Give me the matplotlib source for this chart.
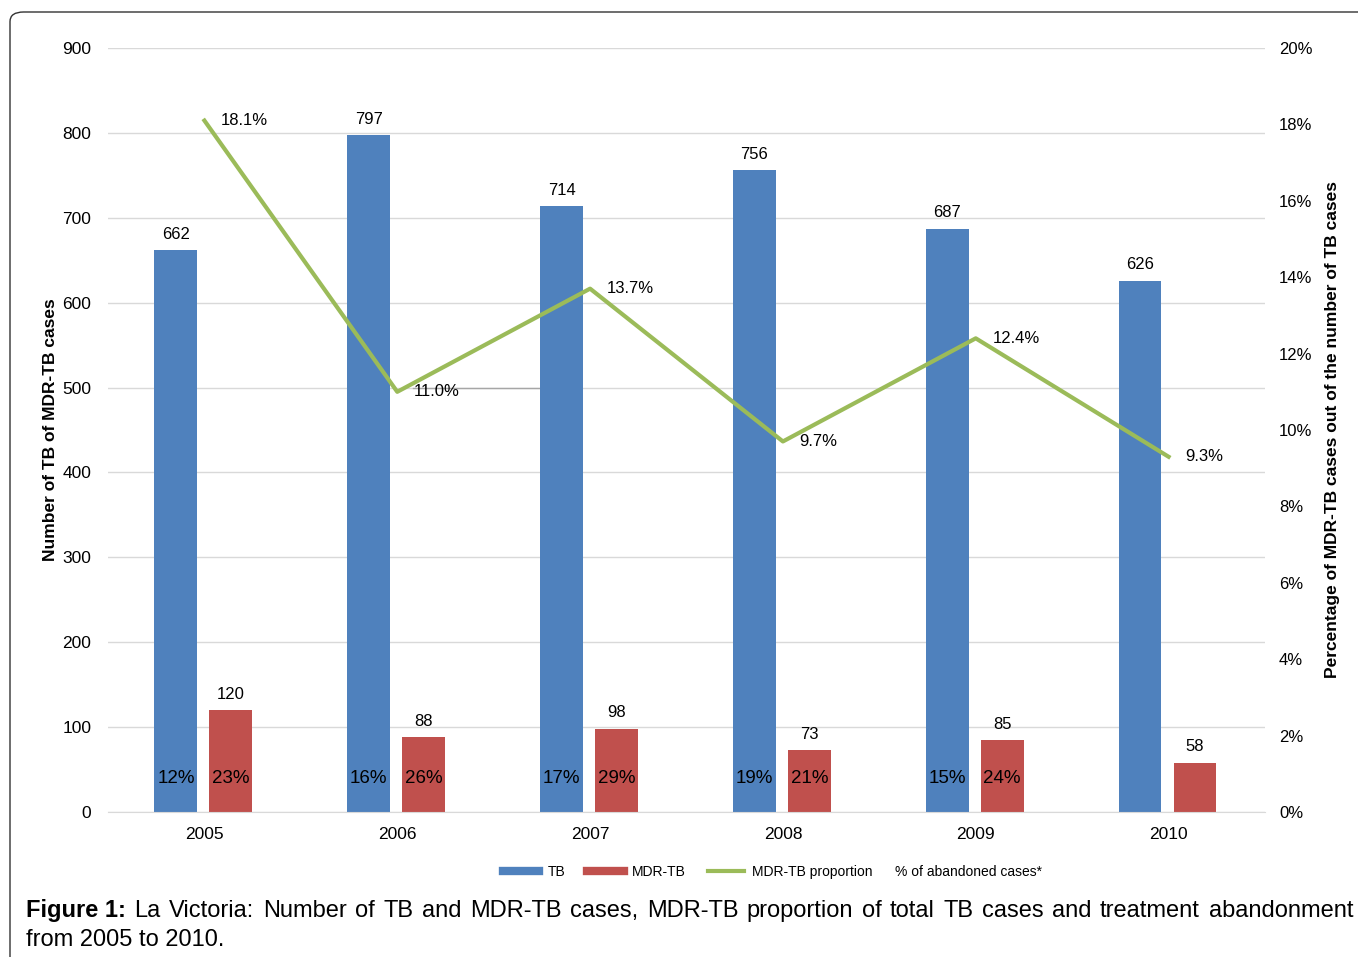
import matplotlib
matplotlib.use('Agg')
import matplotlib.pyplot as plt
from matplotlib.lines import Line2D
from matplotlib.patches import FancyBboxPatch
from matplotlib.ticker import FuncFormatter
import numpy as np

years = ['2005', '2006', '2007', '2008', '2009', '2010']
tb_cases = [662, 797, 714, 756, 687, 626]
mdr_cases = [120, 88, 98, 73, 85, 58]
mdr_proportion = [18.1, 11.0, 13.7, 9.7, 12.4, 9.3]
abandoned_tb = ['12%', '16%', '17%', '19%', '15%', '']
abandoned_mdr = ['23%', '26%', '29%', '21%', '24%', '']

blue = '#4F81BD'
red = '#C0504D'
green = '#9BBB59'
grid_col = '#D9D9D9'

plt.rcParams['font.family'] = ['Liberation Sans', 'DejaVu Sans']

W, H = 1358, 957
fig = plt.figure(figsize=(W / 100, H / 100), dpi=100)

# rounded frame around the figure
frame = FancyBboxPatch((10 / W, -0.2), 1.2, 1 - 12 / H + 0.2,
                       boxstyle='round,pad=0,rounding_size=0.01',
                       transform=fig.transFigure, fc='none', ec='#333333', lw=1.0)
fig.patches.append(frame)

ax = fig.add_axes([108 / W, 1 - 812 / H, (1265 - 108) / W, (812 - 48) / H])
x = np.arange(len(years))
bw = 0.222
tb_x = x - 0.148
mdr_x = x + 0.137

ax.bar(tb_x, tb_cases, bw, color=blue, zorder=2)
ax.bar(mdr_x, mdr_cases, bw, color=red, zorder=2)

for xi, v in zip(tb_x, tb_cases):
    ax.annotate(str(v), (xi, v), xytext=(0, 6), textcoords='offset points',
                ha='center', va='bottom', fontsize=12)
for xi, v in zip(mdr_x, mdr_cases):
    ax.annotate(str(v), (xi, v), xytext=(0, 6), textcoords='offset points',
                ha='center', va='bottom', fontsize=12)

# abandonment percentages written inside the bars
for xi, s in zip(tb_x, abandoned_tb):
    ax.text(xi, 40, s, ha='center', va='center', fontsize=13.5, zorder=4)
for xi, s in zip(mdr_x, abandoned_mdr):
    ax.text(xi, 40, s, ha='center', va='center', fontsize=13.5, zorder=4)

ax.set_ylim(0, 900)
ax.set_xlim(-0.5, len(years) - 0.5)
ax.set_yticks(range(0, 901, 100))
ax.set_xticks(x)
ax.set_xticklabels(years)
ax.yaxis.grid(True, color=grid_col, lw=1, zorder=0)
ax.set_axisbelow(True)
for s in ['top', 'right', 'left']:
    ax.spines[s].set_visible(False)
ax.spines['bottom'].set_color(grid_col)
ax.tick_params(axis='both', length=0, labelsize=12.5)
ax.tick_params(axis='y', pad=12)
ax.tick_params(axis='x', pad=11)
ax.set_ylabel('Number of TB of MDR-TB cases', fontsize=12.5, fontweight='bold', labelpad=3)

# leader line under the 11.0% label
ax.plot([x[1] + 0.08, x[2] - 0.26], [500, 500], color='#A6A6A6', lw=1, zorder=1)

ax2 = ax.twinx()
ax2.plot(x, mdr_proportion, color=green, lw=3, zorder=3)
for xi, v in zip(x, mdr_proportion):
    ax2.annotate(f'{v:.1f}%', (xi, v), xytext=(12, 0), textcoords='offset points',
                 ha='left', va='center', fontsize=12)
ax2.set_ylim(0, 20)
ax2.set_yticks(range(0, 21, 2))
ax2.yaxis.set_major_formatter(FuncFormatter(lambda v, p: f'{v:.0f}%'))
for s in ['top', 'right', 'left', 'bottom']:
    ax2.spines[s].set_visible(False)
ax2.tick_params(axis='y', length=0, labelsize=12, pad=10)
ax2.set_ylabel('Percentage of MDR-TB cases out of the number of TB cases',
               fontsize=12.5, fontweight='bold', labelpad=9)

handles = [Line2D([], [], color=blue, lw=6),
           Line2D([], [], color=red, lw=6),
           Line2D([], [], color=green, lw=3)]
fig.legend(handles, ['TB', 'MDR-TB', 'MDR-TB proportion'], ncol=3, frameon=False,
           loc='center left', bbox_to_anchor=(503 / W, 1 - 872 / H), fontsize=10,
           handlelength=2.6, handletextpad=0.6, columnspacing=1.6,
           borderpad=0, borderaxespad=0)
fig.text(895 / W, 1 - 872 / H, '% of abandoned cases*', fontsize=10, va='center')

# caption, first line justified between the frame margins
renderer = fig.canvas.get_renderer()
caption_words = [('Figure 1:', 'bold')] + [
    (w, 'normal') for w in
    'La Victoria: Number of TB and MDR-TB cases, MDR-TB proportion of total TB cases and treatment abandonment'.split()]
left_px, right_px = 26, 1353
y1 = 1 - 917 / H
texts = [fig.text(0, y1, w, fontsize=17, fontweight=fw, va='baseline') for w, fw in caption_words]
widths = [t.get_window_extent(renderer).width for t in texts]
gap = (right_px - left_px - sum(widths)) / (len(texts) - 1)
xpos = left_px
for t, w in zip(texts, widths):
    t.set_x(xpos / W)
    xpos += w + gap
fig.text(left_px / W, 1 - 946 / H, 'from 2005 to 2010.', fontsize=17, va='baseline')

fig.savefig('out.png', dpi=100)
